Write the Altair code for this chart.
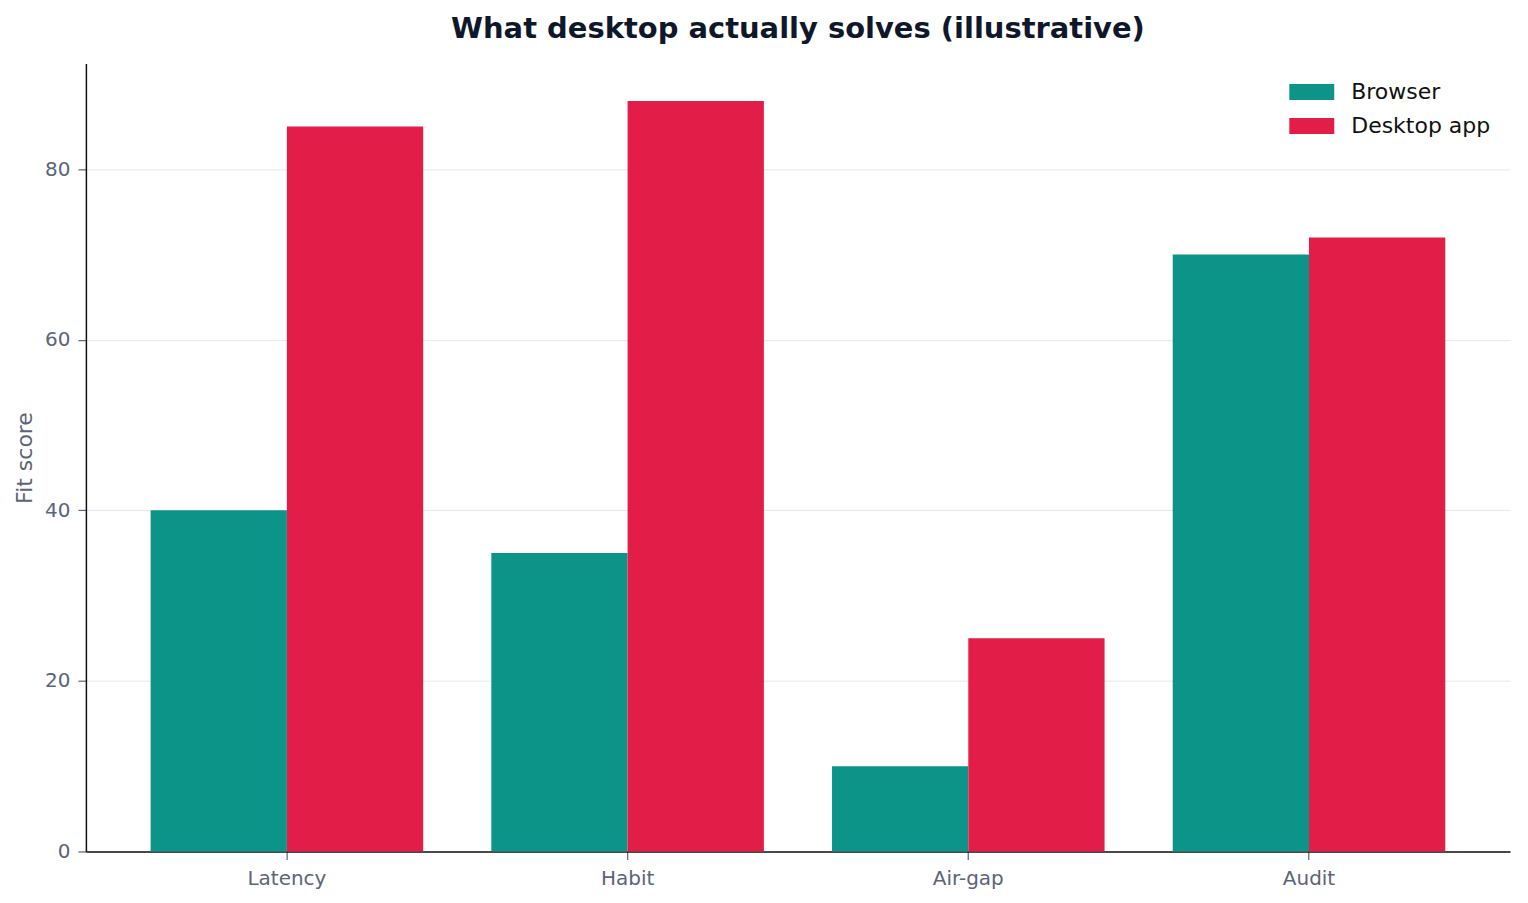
import altair as alt
import pandas as pd

categories = ["Latency", "Habit", "Air-gap", "Audit"]
series = ["Browser", "Desktop app"]
browser = [40, 35, 10, 70]
desktop = [85, 88, 25, 72]
colors = ["#0d9488", "#e11d48"]

rows = []
for c, b, d in zip(categories, browser, desktop):
    rows.append({"category": c, "series": "Browser", "score": b})
    rows.append({"category": c, "series": "Desktop app", "score": d})
df = pd.DataFrame(rows)

FONT = "DejaVu Sans"
GRAY = "#5b6478"

chart = alt.Chart(df).mark_bar().encode(
    x=alt.X("category:N", sort=categories, title=None,
            scale=alt.Scale(paddingInner=0.2, paddingOuter=0.19),
            axis=alt.Axis(labelAngle=0, labelFontSize=20, labelColor=GRAY,
                          tickColor=GRAY, tickSize=8, tickWidth=1.2,
                          domainColor="#111111", domainWidth=1.5, labelPadding=9,
                          grid=False, labelFont=FONT)),
    xOffset=alt.XOffset("series:N", sort=series),
    y=alt.Y("score:Q", title="Fit score",
            scale=alt.Scale(domain=[0, 92.4], nice=False),
            axis=alt.Axis(values=[0, 20, 40, 60, 80], labelFontSize=20,
                          labelColor=GRAY, tickColor=GRAY, tickSize=8,
                          tickWidth=1.2, domainColor="#111111", domainWidth=1.5,
                          gridColor="#e5e7eb", gridWidth=1, labelPadding=8,
                          titleFontSize=22, titleColor=GRAY, titleFontWeight="normal",
                          titlePadding=8, labelFont=FONT, titleFont=FONT)),
    color=alt.Color("series:N", sort=series,
                    scale=alt.Scale(domain=series, range=colors),
                    legend=alt.Legend(title=None, orient="none", legendX=1205, legendY=6,
                                      symbolType="M-1,-0.356H1V0.356H-1Z",
                                      symbolSize=2025, symbolStrokeWidth=0,
                                      labelFontSize=22, labelColor="#111111",
                                      labelFont=FONT, labelOffset=17, padding=0,
                                      rowPadding=-4)),
).properties(
    width=1426,
    height=789,
    title=alt.TitleParams("What desktop actually solves (illustrative)", fontSize=29,
                          font=FONT, fontWeight="bold", color="#0f172a", offset=20,
                          anchor="middle"),
    autosize=alt.AutoSizeParams(type="none"),
    padding={"left": 78, "top": 55, "right": 10, "bottom": 40},
).configure(background="white").configure_view(strokeWidth=0, stroke=None)

chart.save("out.html", embed_options={"renderer": "svg", "actions": False})
